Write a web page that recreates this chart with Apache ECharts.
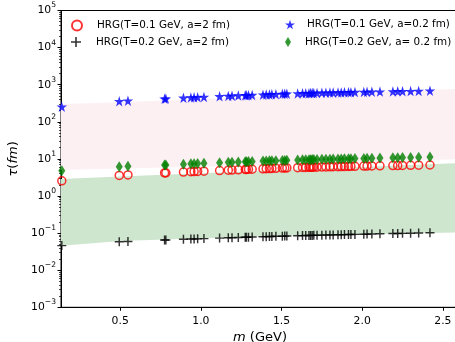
<!DOCTYPE html>
<html>
<head>
<meta charset="utf-8">
<script src="https://cdn.jsdelivr.net/npm/echarts@6/dist/echarts.min.js"></script>
<style>html,body{margin:0;padding:0;background:#fff}#c{width:455px;height:342px}</style>
</head>
<body>
<div id="c"></div>
<script>
// hadron masses (GeV)
const masses = [0.138, 0.494, 0.548, 0.775, 0.783, 0.892, 0.938, 0.958, 0.980, 1.019,
  1.116, 1.170, 1.193, 1.232, 1.275, 1.282, 1.295, 1.318, 1.385, 1.405,
  1.425, 1.440, 1.465, 1.505, 1.520, 1.533, 1.600, 1.630, 1.650, 1.670,
  1.680, 1.690, 1.700, 1.720, 1.750, 1.775, 1.800, 1.820, 1.850, 1.870,
  1.890, 1.915, 1.930, 1.955, 2.010, 2.030, 2.060, 2.110, 2.190, 2.220,
  2.250, 2.300, 2.350, 2.420];
// HRG(T=0.1 GeV, a=2 fm)
const tauT01a2 = [2.56, 3.58, 3.70, 4.20, 4.22, 4.43, 4.52, 4.56, 4.60, 4.68,
  4.86, 4.97, 5.01, 5.09, 5.18, 5.19, 5.22, 5.26, 5.40, 5.45,
  5.48, 5.52, 5.57, 5.66, 5.68, 5.70, 5.81, 5.86, 5.89, 5.92,
  5.94, 5.96, 5.97, 6.00, 6.05, 6.09, 6.12, 6.14, 6.18, 6.21,
  6.23, 6.27, 6.29, 6.33, 6.39, 6.42, 6.45, 6.51, 6.59, 6.63,
  6.67, 6.72, 6.77, 6.85];
// HRG(T=0.1 GeV, a=0.2 fm)
const tauT01a02 = [256, 358, 370, 420, 422, 443, 452, 456, 460, 468,
  486, 497, 501, 509, 518, 519, 522, 526, 540, 545,
  548, 552, 557, 566, 568, 570, 581, 586, 589, 592,
  594, 596, 597, 600, 605, 609, 612, 614, 618, 621,
  623, 627, 629, 633, 639, 642, 645, 651, 659, 663,
  667, 672, 677, 685];
// HRG(T=0.2 GeV, a=2 fm)
const tauT02a2 = [0.0460, 0.0583, 0.0597, 0.0652, 0.0653, 0.0679, 0.0690, 0.0695, 0.0700, 0.0710,
  0.0733, 0.0746, 0.0753, 0.0762, 0.0773, 0.0774, 0.0778, 0.0783, 0.0798, 0.0803,
  0.0807, 0.0811, 0.0818, 0.0827, 0.0830, 0.0833, 0.0847, 0.0855, 0.0859, 0.0863,
  0.0865, 0.0867, 0.0869, 0.0875, 0.0881, 0.0886, 0.0891, 0.0895, 0.0902, 0.0906,
  0.0910, 0.0915, 0.0918, 0.0923, 0.0935, 0.0939, 0.0945, 0.0955, 0.0971, 0.0977,
  0.0984, 0.0994, 0.1005, 0.1019];
// HRG(T=0.2 GeV, a= 0.2 fm)
const tauT02a02 = [4.83, 6.14, 6.29, 6.87, 6.90, 7.21, 7.35, 7.41, 7.47, 7.59,
  7.89, 8.06, 8.13, 8.26, 8.39, 8.41, 8.45, 8.51, 8.73, 8.79,
  8.85, 8.89, 8.97, 9.09, 9.12, 9.16, 9.33, 9.42, 9.46, 9.51,
  9.55, 9.57, 9.59, 9.64, 9.73, 9.79, 9.84, 9.89, 9.95, 10.0,
  10.05, 10.11, 10.14, 10.2, 10.32, 10.37, 10.44, 10.56, 10.74, 10.81,
  10.89, 10.99, 11.12, 11.27];
// shaded bands
const bandM = [0.133, 0.5, 1.0, 1.5, 2.0, 2.6];
const pinkLow = [5.05, 5.53, 6.14, 7.0, 8.15, 9.8];
const pinkHigh = [304, 334, 412, 505, 612, 773];
const greenLow = [0.0458, 0.0610, 0.0724, 0.0851, 0.0933, 0.1035];
const greenHigh = [2.88, 3.37, 4.10, 4.99, 6.06, 7.66];
// ticks
const xTicks = [0.5, 1.0, 1.5, 2.0, 2.5];
const yTicks = [1e-3, 1e-2, 1e-1, 1, 10, 100, 1000, 10000, 100000];
const yMinor = [];
for (let e = -3; e < 5; e++) for (let k = 2; k <= 9; k++) yMinor.push(k * Math.pow(10, e));

const names = ['HRG(T=0.1 GeV, a=2 fm)', 'HRG(T=0.2 GeV, a=2 fm)', 'HRG(T=0.1 GeV, a=0.2 fm)', 'HRG(T=0.2 GeV, a= 0.2 fm)'];
const FONT = 'DejaVu Sans';
const starPath = 'path://M50,0 L61,35 L98,35 L68,57 L79,91 L50,70 L21,91 L32,57 L2,35 L39,35 Z';
const plusPath = 'path://M42,0 H58 V42 H100 V58 H58 V100 H42 V58 H0 V42 H42 Z';
const diamondPath = 'path://M30,0 L60,50 L30,100 L0,50 Z';

function pairs(xs, ys) { return xs.map((x, i) => [x, ys[i]]); }
function band(low, high, color) {
  return {
    type: 'custom', silent: true, z: 1, clip: true,
    data: [[bandM[0], low[0]]],
    renderItem: function (params, api) {
      const pts = [];
      for (let i = 0; i < bandM.length; i++) pts.push(api.coord([bandM[i], high[i]]));
      for (let i = bandM.length - 1; i >= 0; i--) pts.push(api.coord([bandM[i], low[i]]));
      return { type: 'polygon', shape: { points: pts }, style: { fill: color } };
    }
  };
}
function sup(v) {
  const e = Math.round(Math.log10(v));
  return '{b|10}{s|' + (e < 0 ? '\u2212' + (-e) : '' + e) + '}';
}
function legend(name, left, top, pad) {
  return {
    data: [name], left: left, top: top, orient: 'vertical', padding: 0, itemGap: 0,
    itemWidth: 10, itemHeight: 10, selectedMode: false,
    textStyle: { fontFamily: FONT, fontSize: 10.4, color: '#000', padding: [0, 0, 0, pad] }
  };
}

const chart = echarts.init(document.getElementById('c'), null, { renderer: 'canvas' });
chart.setOption({
  animation: false,
  backgroundColor: '#fff',
  grid: { left: 61, top: 10.5, width: 398, height: 296.8, outerBoundsMode: 'none', containLabel: false,
    show: true, borderColor: '#000', borderWidth: 1, backgroundColor: 'transparent' },
  legend: [
    legend(names[0], 71, 19.5, 10),
    legend(names[1], 71, 37, 10),
    legend(names[2], 285, 19.5, 7),
    legend(names[3], 285, 37, 7)
  ],
  xAxis: {
    type: 'value', min: 0.133, max: 2.6,
    name: '{i|m} (GeV)', nameLocation: 'middle', nameGap: 22,
    nameTextStyle: { fontFamily: FONT, fontSize: 13, color: '#000', rich: { i: { fontFamily: FONT, fontSize: 13, fontStyle: 'italic', color: '#000' } } },
    axisLine: { lineStyle: { color: '#000', width: 1 } },
    axisTick: { length: 3.5, lineStyle: { color: '#000' }, customValues: xTicks },
    axisLabel: { customValues: xTicks, formatter: v => v.toFixed(1), fontFamily: FONT, fontSize: 10.8, color: '#000', margin: 8 },
    splitLine: { show: false }
  },
  yAxis: [{
    type: 'log', logBase: 10, min: 1e-3, max: 1e5, position: 'left',
    name: '{i|\u03c4}({i|fm})', nameLocation: 'middle', nameGap: 40, nameRotate: 90,
    nameTextStyle: { fontFamily: FONT, fontSize: 13, color: '#000', rich: { i: { fontFamily: FONT, fontSize: 13, fontStyle: 'italic', color: '#000' } } },
    axisLine: { show: true, lineStyle: { color: '#000', width: 1 } },
    axisTick: { show: true, length: 3.5, lineStyle: { color: '#000' }, customValues: yTicks },
    axisLabel: {
      customValues: yTicks, formatter: sup, margin: 5,
      rich: {
        b: { fontFamily: FONT, fontSize: 10.8, color: '#000', lineHeight: 18 },
        s: { fontFamily: FONT, fontSize: 7.6, color: '#000', verticalAlign: 'top' }
      }
    },
    splitLine: { show: false }
  }, {
    type: 'log', logBase: 10, min: 1e-3, max: 1e5, position: 'left',
    axisLine: { show: false },
    axisTick: { show: true, length: 2, lineStyle: { color: '#000', width: 0.7 }, customValues: yMinor },
    axisLabel: { show: false },
    splitLine: { show: false }
  }],
  series: [
    band(pinkLow, pinkHigh, 'rgb(253,240,243)'),
    band(greenLow, greenHigh, 'rgb(206,229,206)'),
    {
      name: names[0], type: 'scatter', z: 3, data: pairs(masses, tauT01a2),
      symbol: 'circle', symbolSize: 8,
      itemStyle: { color: 'rgba(0,0,0,0)', borderColor: '#ff0000', borderWidth: 1.5 }
    },
    {
      name: names[1], type: 'scatter', z: 3, data: pairs(masses, tauT02a2),
      symbol: plusPath, symbolSize: 9,
      itemStyle: { color: '#000' }
    },
    {
      name: names[2], type: 'scatter', z: 3, data: pairs(masses, tauT01a02),
      symbol: starPath, symbolSize: 10.5,
      itemStyle: { color: '#0000ff' }
    },
    {
      name: names[3], type: 'scatter', z: 3, data: pairs(masses, tauT02a02),
      symbol: diamondPath, symbolSize: [7, 11],
      itemStyle: { color: '#008000' }
    }
  ]
});
</script>
</body>
</html>
